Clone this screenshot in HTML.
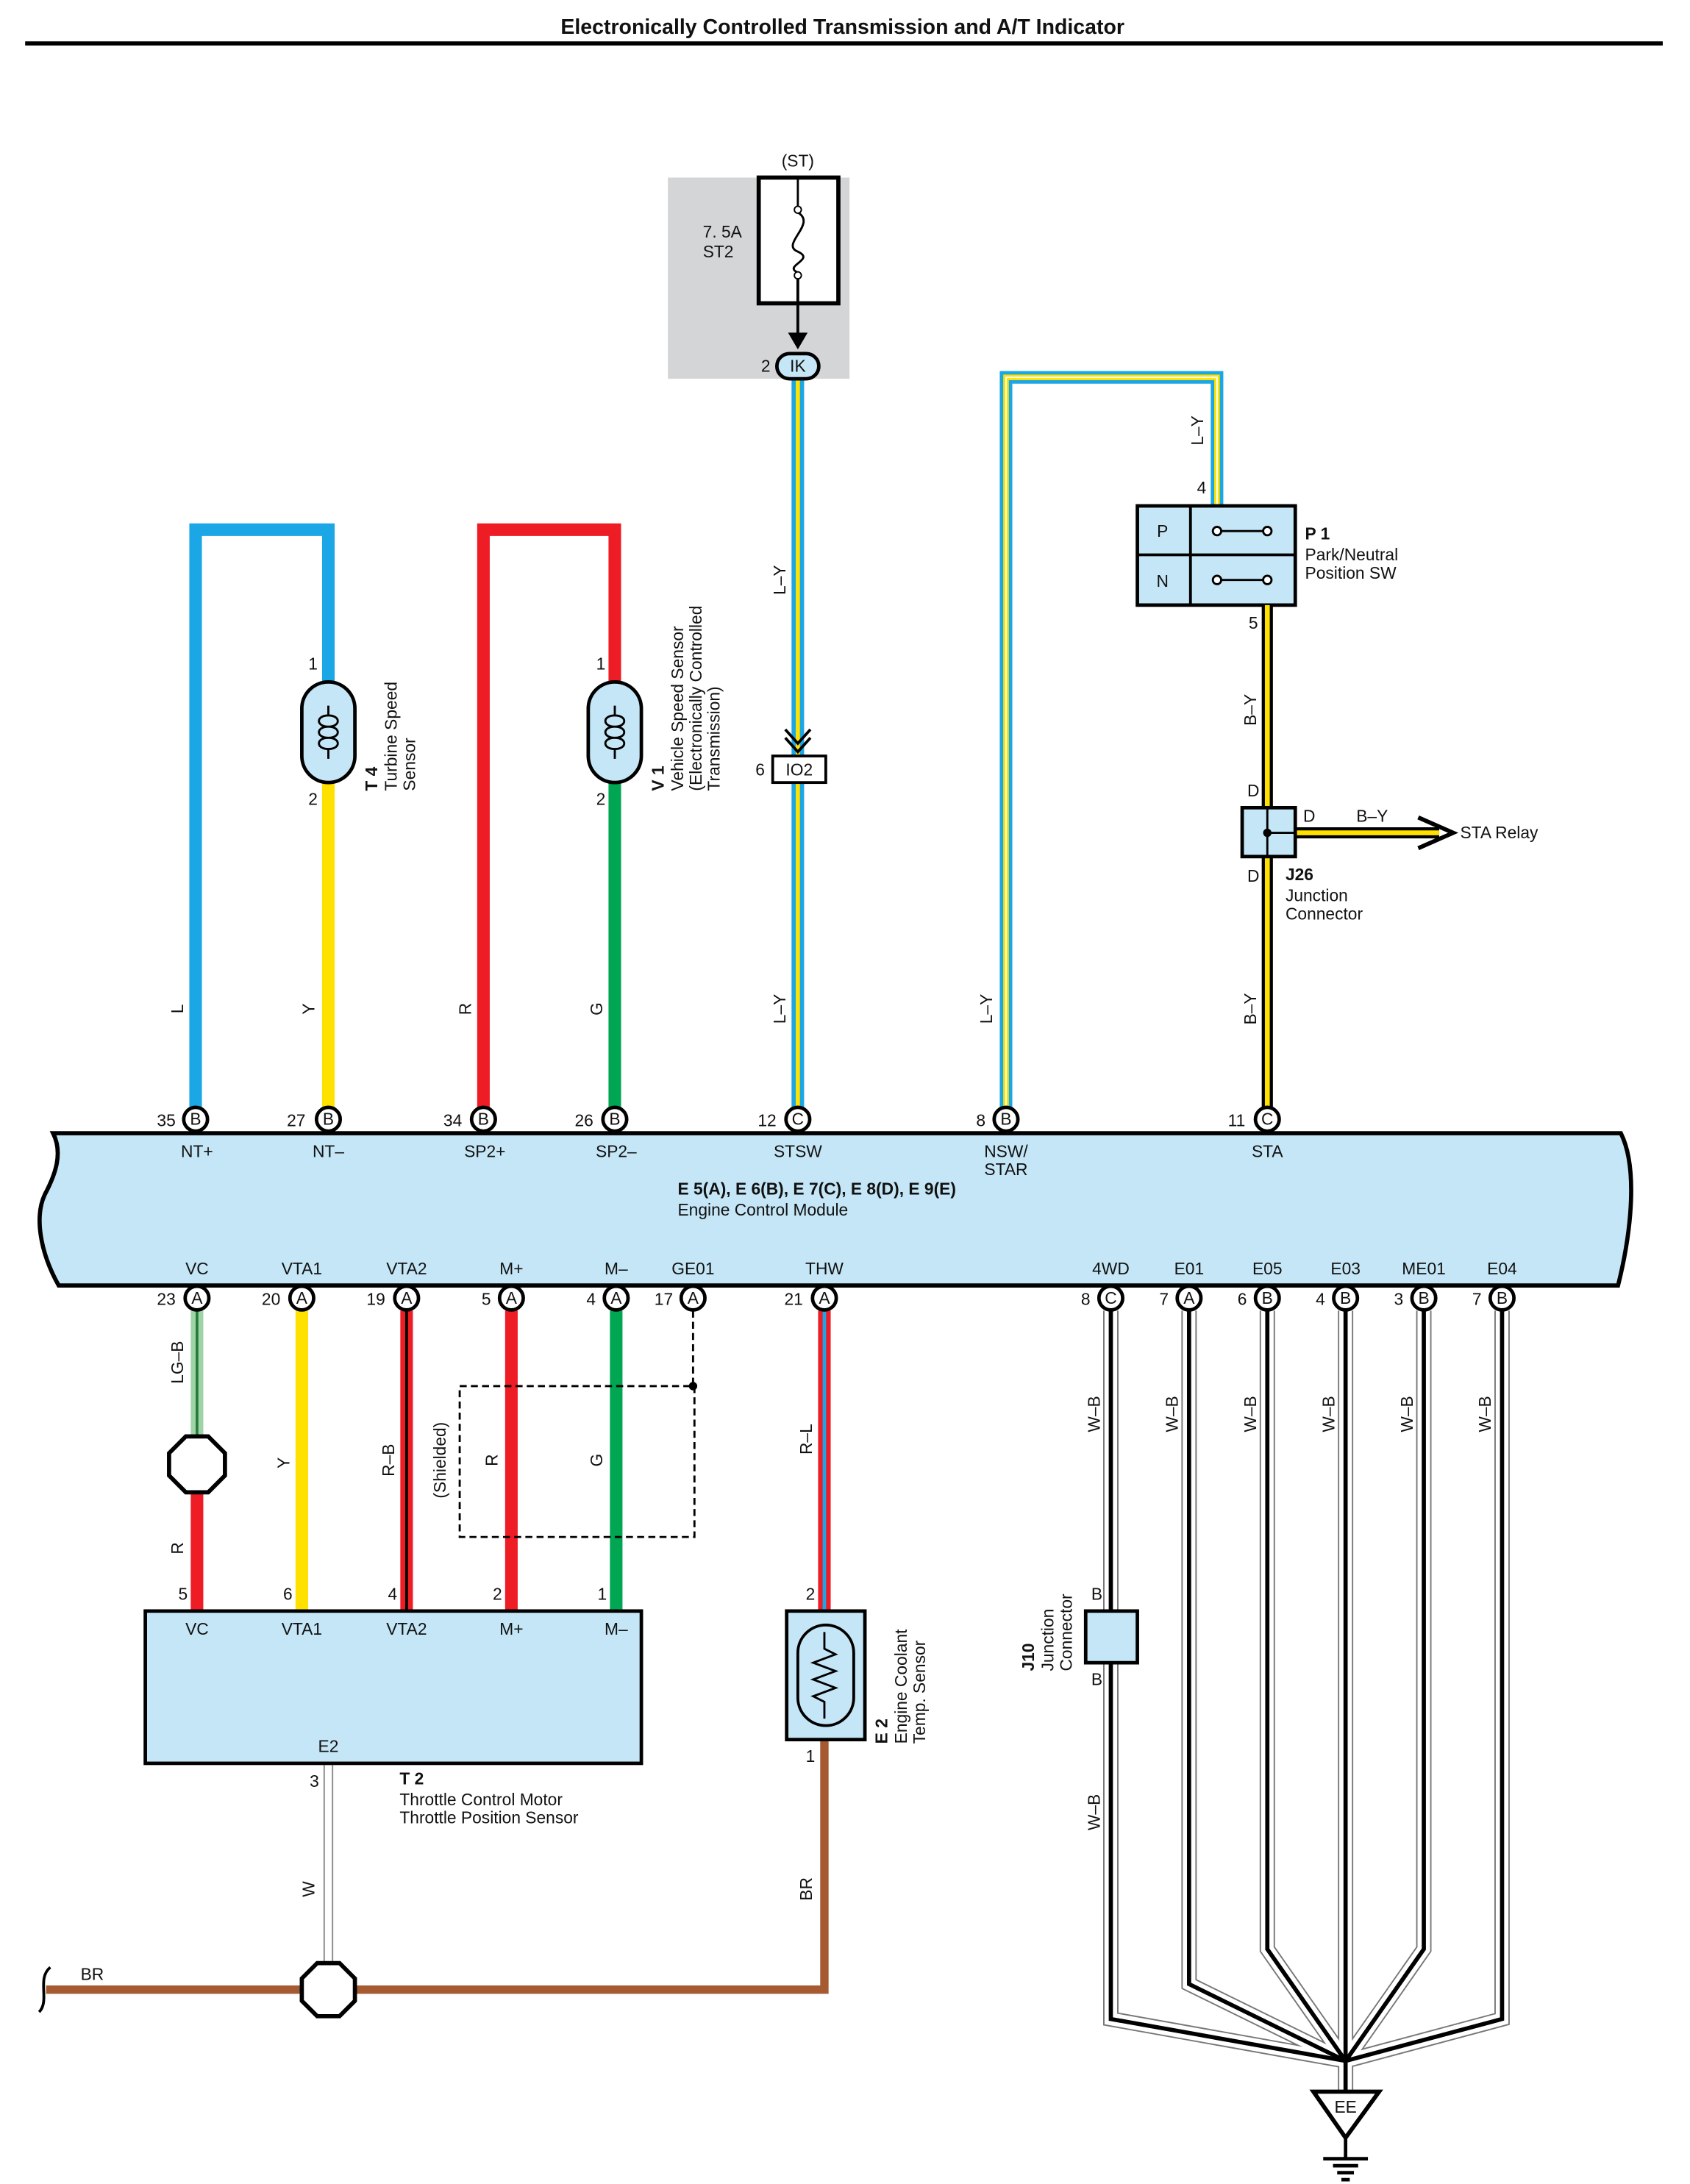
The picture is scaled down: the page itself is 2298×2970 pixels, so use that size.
<!DOCTYPE html>
<html><head><meta charset="utf-8"><style>html,body{margin:0;padding:0;background:#fff}svg{display:block}text{font-family:"Liberation Sans",sans-serif;font-size:12px;fill:#111}.b{font-weight:bold}.m{text-anchor:middle}</style></head><body>
<svg width="2298" height="2970" viewBox="0 0 1209.5 1563" xmlns="http://www.w3.org/2000/svg">
<defs>
<g id="pin"><circle r="8.5" fill="#fff" stroke="#000" stroke-width="2.5"/></g>
</defs>
<text x="603" y="24" class="b m" style="font-size:15px">Electronically Controlled Transmission and A/T Indicator</text>
<line x1="18" y1="31" x2="1190" y2="31" stroke="#000" stroke-width="3"/>

<!-- fuse box -->
<rect x="478" y="127" width="130" height="144" fill="#d4d5d7"/>
<text x="571" y="119" class="m">(ST)</text>
<rect x="543" y="127" width="57" height="90" fill="#fff" stroke="#000" stroke-width="3"/>
<text x="517" y="170" class="m">7. 5A</text><text x="514" y="184" class="m">ST2</text>
<line x1="571" y1="127" x2="571" y2="148" stroke="#000" stroke-width="1.5"/>
<path d="M571 152 C585 160 558 175 571 180 C584 186 560 190 571 195" fill="none" stroke="#000" stroke-width="1.5"/>
<circle cx="571" cy="150" r="2.5" fill="#fff" stroke="#000"/><circle cx="571" cy="197" r="2.5" fill="#fff" stroke="#000"/>
<line x1="571" y1="199" x2="571" y2="240" stroke="#000" stroke-width="2"/>
<path d="M564 238 L571 250 L578 238 Z" fill="#000"/>
<!-- L-Y wire STSW -->
<line x1="571" y1="262" x2="571" y2="800" stroke="#1ba6e5" stroke-width="9"/>
<line x1="571" y1="262" x2="571" y2="800" stroke="#ffe100" stroke-width="3"/>
<rect x="556" y="253" width="30" height="18" rx="9" fill="#c5e6f6" stroke="#000" stroke-width="2.5"/>
<text x="571" y="266" class="m">IK</text><text x="548" y="266" class="m">2</text>
<path d="M562 522 L571 532 L580 522 M562 528 L571 538 L580 528" fill="none" stroke="#000" stroke-width="2"/>
<rect x="553" y="541" width="38" height="19" fill="#fff" stroke="#000" stroke-width="2"/>
<text x="572" y="555" class="m">IO2</text><text x="544" y="555" class="m">6</text>
<text transform="rotate(-90 562 415)" x="562" y="415" class="m">L–Y</text>
<text transform="rotate(-90 562 722)" x="562" y="722" class="m">L–Y</text>

<!-- NSW wire -->
<path d="M720 800 V270 H871 V362" fill="none" stroke="#1ba6e5" stroke-width="9"/>
<path d="M720 800 V270 H871 V362" fill="none" stroke="#ffe100" stroke-width="4"/>
<path d="M720 800 V270 H871 V362" fill="none" stroke="#fff" stroke-width="1"/>
<text transform="rotate(-90 710 722)" x="710" y="722" class="m">L–Y</text>
<text transform="rotate(-90 861 308)" x="861" y="308" class="m">L–Y</text>

<!-- P1 -->
<rect x="814" y="362" width="113" height="71" fill="#c5e6f6" stroke="#000" stroke-width="2.5"/>
<line x1="852" y1="362" x2="852" y2="433" stroke="#000" stroke-width="2"/>
<line x1="814" y1="397" x2="927" y2="397" stroke="#000" stroke-width="2"/>
<text x="832" y="384" class="m">P</text><text x="832" y="420" class="m">N</text>
<g stroke="#000" stroke-width="1.5" fill="#fff">
<line x1="871" y1="380" x2="907" y2="380"/><line x1="871" y1="415" x2="907" y2="415"/>
<circle cx="871" cy="380" r="3"/><circle cx="907" cy="380" r="3"/>
<circle cx="871" cy="415" r="3"/><circle cx="907" cy="415" r="3"/>
</g>
<text x="860" y="353" class="m">4</text><text x="897" y="450" class="m">5</text>
<text x="934" y="386" class="b">P 1</text><text x="934" y="401">Park/Neutral</text><text x="934" y="414">Position SW</text>

<!-- B-Y wire -->
<g fill="none">
<path d="M907 433 V800" stroke="#000" stroke-width="8"/><path d="M907 433 V800" stroke="#ffe100" stroke-width="3.5"/>
<path d="M927 596 H1030" stroke="#000" stroke-width="8"/><path d="M927 596 H1030" stroke="#ffe100" stroke-width="3.5"/>
<path d="M1015 585 L1040 596 L1015 607" stroke="#000" stroke-width="3"/>
</g>
<rect x="889" y="578" width="38" height="35" fill="#c5e6f6" stroke="#000" stroke-width="2.5"/>
<line x1="907" y1="578" x2="907" y2="613" stroke="#000" stroke-width="1.5"/>
<line x1="907" y1="596" x2="927" y2="596" stroke="#000" stroke-width="1.5"/>
<circle cx="907" cy="596" r="3" fill="#000"/>
<text x="897" y="570" class="m">D</text><text x="937" y="588" class="m">D</text><text x="982" y="588" class="m">B–Y</text>
<text x="897" y="631" class="m">D</text>
<text x="1045" y="600">STA Relay</text>
<text x="920" y="630" class="b">J26</text><text x="920" y="645">Junction</text><text x="920" y="658">Connector</text>
<text transform="rotate(-90 899 508)" x="899" y="508" class="m">B–Y</text>
<text transform="rotate(-90 899 722)" x="899" y="722" class="m">B–Y</text>

<!-- L / Y wires -->
<path d="M140 800 V379 H235 V488" fill="none" stroke="#1ba6e5" stroke-width="9"/>
<path d="M235 560 V800" stroke="#ffe100" stroke-width="9"/>
<path d="M346 800 V379 H440 V488" fill="none" stroke="#ee1c25" stroke-width="9"/>
<path d="M440 560 V800" stroke="#00a651" stroke-width="9"/>
<g id="sens">
<rect x="216" y="488" width="38" height="72" rx="19" fill="#c5e6f6" stroke="#000" stroke-width="2.5"/>
<path d="M235 505 V512 C226 512 226 520 235 520 C244 520 244 512 235 512 M235 520 C226 520 226 528 235 528 C244 528 244 520 235 520 M235 528 C226 528 226 536 235 536 C244 536 244 528 235 528 M235 536 V543" fill="none" stroke="#000" stroke-width="1.5"/>
</g>
<use href="#sens" x="205"/>
<text x="224" y="479" class="m">1</text><text x="224" y="576" class="m">2</text>
<text x="430" y="479" class="m">1</text><text x="430" y="576" class="m">2</text>
<text transform="rotate(-90 131 722)" x="131" y="722" class="m">L</text>
<text transform="rotate(-90 225 722)" x="225" y="722" class="m">Y</text>
<text transform="rotate(-90 337 722)" x="337" y="722" class="m">R</text>
<text transform="rotate(-90 431 722)" x="431" y="722" class="m">G</text>
<g transform="rotate(-90 270 566)"><text x="270" y="566" class="b">T 4</text><text x="270" y="580">Turbine Speed</text><text x="270" y="593">Sensor</text></g>
<g transform="rotate(-90 475 566)"><text x="475" y="566" class="b">V 1</text><text x="475" y="580">Vehicle Speed Sensor</text><text x="475" y="593">(Electronically Controlled</text><text x="475" y="606">Transmission)</text></g>

<!-- ECM -->
<path d="M38 811 H1160 C1172 835 1168 880 1158 920 H42 C28 895 25 870 32 855 C40 840 45 825 38 811 Z" fill="#c5e6f6" stroke="#000" stroke-width="3"/>
<g class="m">
<text x="141" y="828" class="m">NT+</text><text x="235" y="828" class="m">NT–</text><text x="347" y="828" class="m">SP2+</text><text x="441" y="828" class="m">SP2–</text><text x="571" y="828" class="m">STSW</text><text x="720" y="828" class="m">NSW/</text><text x="720" y="841" class="m">STAR</text><text x="907" y="828" class="m">STA</text>
</g>
<text x="485" y="855" class="b">E 5(A), E 6(B), E 7(C), E 8(D), E 9(E)</text>
<text x="485" y="870">Engine Control Module</text>
<g>
<text x="141" y="912" class="m">VC</text><text x="216" y="912" class="m">VTA1</text><text x="291" y="912" class="m">VTA2</text><text x="366" y="912" class="m">M+</text><text x="441" y="912" class="m">M–</text><text x="496" y="912" class="m">GE01</text><text x="590" y="912" class="m">THW</text><text x="795" y="912" class="m">4WD</text><text x="851" y="912" class="m">E01</text><text x="907" y="912" class="m">E05</text><text x="963" y="912" class="m">E03</text><text x="1019" y="912" class="m">ME01</text><text x="1075" y="912" class="m">E04</text>
</g>

<!-- bottom wires -->
<g fill="none">
<path d="M141 938 V1030" stroke="#9fd4a8" stroke-width="9"/><path d="M141 938 V1030" stroke="#2a7a3a" stroke-width="2"/>
<path d="M141 1060 V1153" stroke="#ee1c25" stroke-width="9"/>
<path d="M216 938 V1153" stroke="#ffe100" stroke-width="9"/>
<path d="M291 938 V1153" stroke="#ee1c25" stroke-width="9"/><path d="M291 938 V1153" stroke="#000" stroke-width="2"/>
<path d="M366 938 V1153" stroke="#ee1c25" stroke-width="9"/>
<path d="M441 938 V1153" stroke="#00a651" stroke-width="9"/>
<path d="M590 938 V1153" stroke="#ee1c25" stroke-width="9"/><path d="M590 938 V1153" stroke="#1ba6e5" stroke-width="2.5"/>
<path d="M496 938 V992 H329 V1100 H497 V992" stroke="#000" stroke-width="1.5" stroke-dasharray="5 3"/>
<path d="M235 1262 V1410" stroke="#888" stroke-width="7"/><path d="M235 1262 V1410" stroke="#fff" stroke-width="5"/>
<path d="M33 1424 H590 V1245" stroke="#a65a32" stroke-width="6"/>
<path d="M36 1408 C26 1416 36 1432 28 1440" stroke="#000" stroke-width="2"/>
</g>
<circle cx="496" cy="992" r="3" fill="#000"/>
<polygon points="133,1028 149,1028 161,1040 161,1056 149,1068 133,1068 121,1056 121,1040" fill="#fff" stroke="#000" stroke-width="3"/>
<polygon points="227,1405 243,1405 254,1416 254,1432 243,1443 227,1443 216,1432 216,1416" fill="#fff" stroke="#000" stroke-width="3"/>
<text transform="rotate(-90 131 975)" x="131" y="975" class="m">LG–B</text>
<text transform="rotate(-90 131 1108)" x="131" y="1108" class="m">R</text>
<text transform="rotate(-90 207 1047)" x="207" y="1047" class="m">Y</text>
<text transform="rotate(-90 282 1045)" x="282" y="1045" class="m">R–B</text>
<text transform="rotate(-90 356 1045)" x="356" y="1045" class="m">R</text>
<text transform="rotate(-90 431 1045)" x="431" y="1045" class="m">G</text>
<text transform="rotate(-90 319 1045)" x="319" y="1045" class="m">(Shielded)</text>
<text transform="rotate(-90 581 1030)" x="581" y="1030" class="m">R–L</text>
<text transform="rotate(-90 225 1352)" x="225" y="1352" class="m">W</text>
<text transform="rotate(-90 581 1352)" x="581" y="1352" class="m">BR</text>
<text x="66" y="1417" class="m">BR</text>

<!-- T2 -->
<rect x="104" y="1153" width="355" height="109" fill="#c5e6f6" stroke="#000" stroke-width="2.5"/>
<text x="131" y="1145" class="m">5</text><text x="206" y="1145" class="m">6</text><text x="281" y="1145" class="m">4</text><text x="356" y="1145" class="m">2</text><text x="431" y="1145" class="m">1</text>
<text x="141" y="1170" class="m">VC</text><text x="216" y="1170" class="m">VTA1</text><text x="291" y="1170" class="m">VTA2</text><text x="366" y="1170" class="m">M+</text><text x="441" y="1170" class="m">M–</text>
<text x="235" y="1254" class="m">E2</text><text x="225" y="1279" class="m">3</text>
<text x="286" y="1277" class="b">T 2</text><text x="286" y="1292">Throttle Control Motor</text><text x="286" y="1305">Throttle Position Sensor</text>

<!-- E2 sensor -->
<rect x="563" y="1153" width="56" height="92" fill="#c5e6f6" stroke="#000" stroke-width="2.5"/>
<rect x="571" y="1163" width="40" height="72" rx="20" fill="#c5e6f6" stroke="#000" stroke-width="2"/>
<path d="M590 1168 V1180 L598 1184 L582 1190 L598 1196 L582 1202 L598 1208 L582 1214 L590 1218 V1230" fill="none" stroke="#000" stroke-width="1.5"/>
<text x="580" y="1145" class="m">2</text><text x="580" y="1261" class="m">1</text>
<g transform="rotate(-90 635 1248)"><text x="635" y="1248" class="b">E 2</text><text x="635" y="1262">Engine Coolant</text><text x="635" y="1275">Temp. Sensor</text></g>

<!-- ground wires -->
<g fill="none" stroke-linejoin="miter">
<g stroke="#777" stroke-width="11">
<path d="M795 938 V1445 L963 1475"/><path d="M851 938 V1420 L963 1475"/><path d="M907 938 V1395 L963 1475"/><path d="M963 938 V1496"/><path d="M1019 938 V1395 L963 1475"/><path d="M1075 938 V1445 L963 1475"/>
</g>
<g stroke="#fff" stroke-width="9">
<path d="M795 938 V1445 L963 1475"/><path d="M851 938 V1420 L963 1475"/><path d="M907 938 V1395 L963 1475"/><path d="M963 938 V1496"/><path d="M1019 938 V1395 L963 1475"/><path d="M1075 938 V1445 L963 1475"/>
</g>
<g stroke="#000" stroke-width="3">
<path d="M795 938 V1445 L963 1475"/><path d="M851 938 V1420 L963 1475"/><path d="M907 938 V1395 L963 1475"/><path d="M963 938 V1496"/><path d="M1019 938 V1395 L963 1475"/><path d="M1075 938 V1445 L963 1475"/>
</g>
</g>
<rect x="777" y="1153" width="37" height="37" fill="#c5e6f6" stroke="#000" stroke-width="2.5"/>
<text x="785" y="1145" class="m">B</text><text x="785" y="1206" class="m">B</text>
<g transform="rotate(-90 740 1196)"><text x="740" y="1196" class="b">J10</text><text x="740" y="1210">Junction</text><text x="740" y="1223">Connector</text></g>
<text transform="rotate(-90 787 1012)" x="787" y="1012" class="m">W–B</text>
<text transform="rotate(-90 843 1012)" x="843" y="1012" class="m">W–B</text>
<text transform="rotate(-90 899 1012)" x="899" y="1012" class="m">W–B</text>
<text transform="rotate(-90 955 1012)" x="955" y="1012" class="m">W–B</text>
<text transform="rotate(-90 1011 1012)" x="1011" y="1012" class="m">W–B</text>
<text transform="rotate(-90 1067 1012)" x="1067" y="1012" class="m">W–B</text>
<text transform="rotate(-90 787 1297)" x="787" y="1297" class="m">W–B</text>
<polygon points="940,1497 987,1497 963,1530" fill="#fff" stroke="#000" stroke-width="3"/>
<text x="963" y="1512" class="m">EE</text>
<g stroke="#000" stroke-width="2.5"><line x1="963" y1="1530" x2="963" y2="1545"/><line x1="947" y1="1545" x2="979" y2="1545"/><line x1="954" y1="1550" x2="972" y2="1550"/><line x1="957" y1="1555" x2="969" y2="1555"/><line x1="960" y1="1560" x2="966" y2="1560"/></g>

<!-- pins -->
<g>
<use href="#pin" x="140" y="801"/><use href="#pin" x="235" y="801"/><use href="#pin" x="346" y="801"/><use href="#pin" x="440" y="801"/><use href="#pin" x="571" y="801"/><use href="#pin" x="720" y="801"/><use href="#pin" x="907" y="801"/>
<use href="#pin" x="141" y="929"/><use href="#pin" x="216" y="929"/><use href="#pin" x="291" y="929"/><use href="#pin" x="366" y="929"/><use href="#pin" x="441" y="929"/><use href="#pin" x="496" y="929"/><use href="#pin" x="590" y="929"/><use href="#pin" x="795" y="929"/><use href="#pin" x="851" y="929"/><use href="#pin" x="907" y="929"/><use href="#pin" x="963" y="929"/><use href="#pin" x="1019" y="929"/><use href="#pin" x="1075" y="929"/>
</g>
<g style="font-size:11px">
<text x="140" y="805" class="m">B</text><text x="235" y="805" class="m">B</text><text x="346" y="805" class="m">B</text><text x="440" y="805" class="m">B</text><text x="571" y="805" class="m">C</text><text x="720" y="805" class="m">B</text><text x="907" y="805" class="m">C</text>
<text x="141" y="933" class="m">A</text><text x="216" y="933" class="m">A</text><text x="291" y="933" class="m">A</text><text x="366" y="933" class="m">A</text><text x="441" y="933" class="m">A</text><text x="496" y="933" class="m">A</text><text x="590" y="933" class="m">A</text><text x="795" y="933" class="m">C</text><text x="851" y="933" class="m">A</text><text x="907" y="933" class="m">B</text><text x="963" y="933" class="m">B</text><text x="1019" y="933" class="m">B</text><text x="1075" y="933" class="m">B</text>
</g>
<g>
<text x="119" y="806" class="m">35</text><text x="212" y="806" class="m">27</text><text x="324" y="806" class="m">34</text><text x="418" y="806" class="m">26</text><text x="549" y="806" class="m">12</text><text x="702" y="806" class="m">8</text><text x="885" y="806" class="m">11</text>
<text x="119" y="934" class="m">23</text><text x="194" y="934" class="m">20</text><text x="269" y="934" class="m">19</text><text x="348" y="934" class="m">5</text><text x="423" y="934" class="m">4</text><text x="475" y="934" class="m">17</text><text x="568" y="934" class="m">21</text><text x="777" y="934" class="m">8</text><text x="833" y="934" class="m">7</text><text x="889" y="934" class="m">6</text><text x="945" y="934" class="m">4</text><text x="1001" y="934" class="m">3</text><text x="1057" y="934" class="m">7</text>
</g>
</svg>
</body></html>
